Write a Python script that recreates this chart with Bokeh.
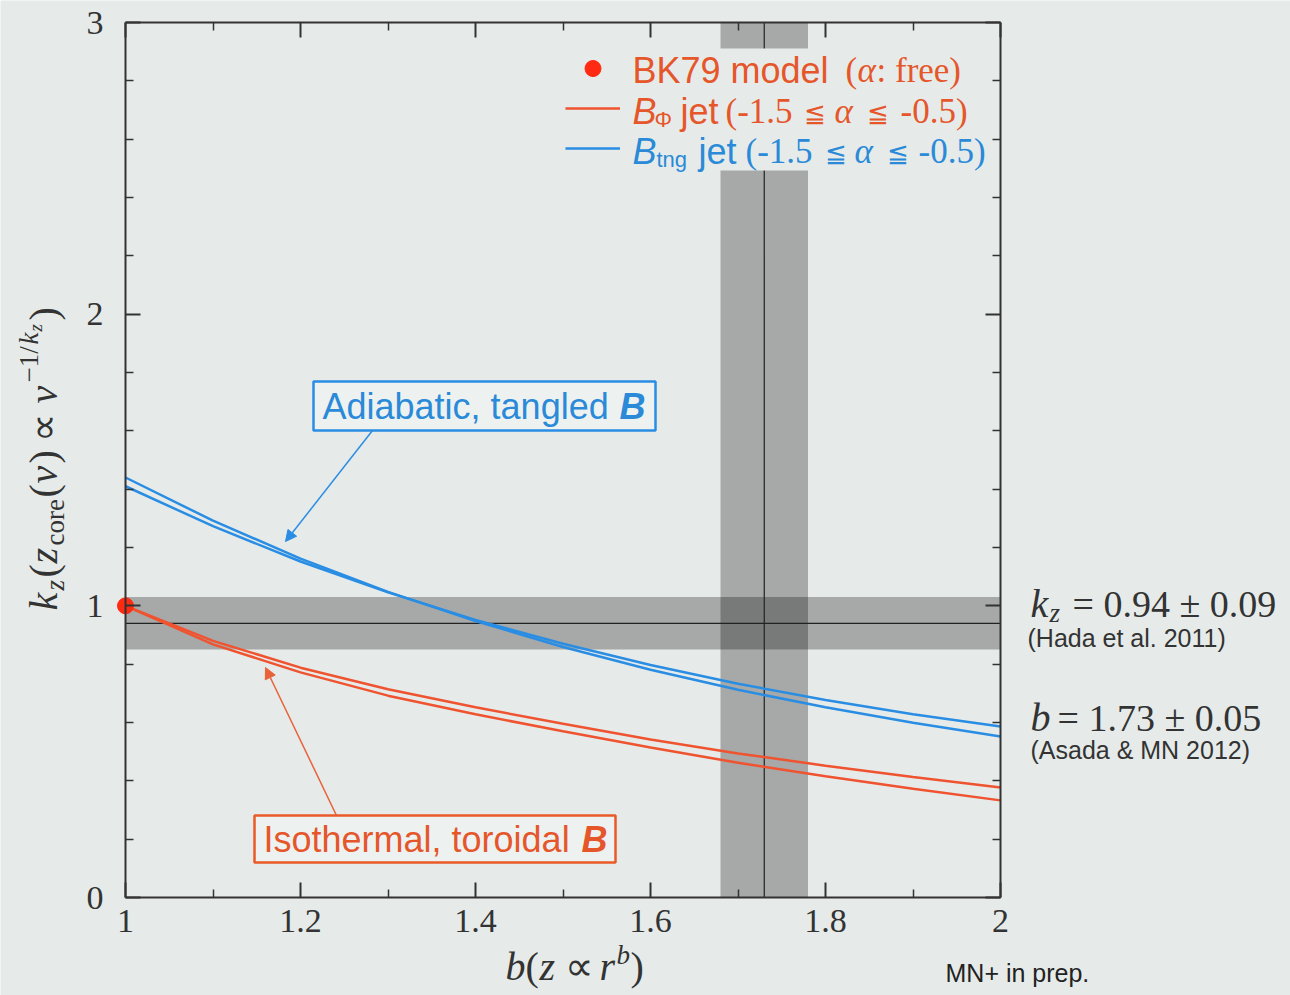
import numpy as np
from bokeh.plotting import figure
from bokeh.models import (Range1d, FixedTicker, LinearAxis, CustomJSTickFormatter,
                          BoxAnnotation, Label, Arrow, NormalHead, Legend, LegendItem)
from bokeh.embed import file_html
from bokeh.resources import INLINE

# ---------------- data ----------------
b_grid = [1.0, 1.1, 1.2, 1.3, 1.4, 1.5, 1.6, 1.7, 1.8, 1.9, 2.0]
k_toroidal_hi = [1.00, 0.880, 0.788, 0.714, 0.652, 0.596, 0.542, 0.494, 0.452, 0.413, 0.377]
k_toroidal_lo = [1.00, 0.868, 0.772, 0.692, 0.628, 0.570, 0.514, 0.462, 0.416, 0.373, 0.333]
k_tangled_a = [1.44, 1.292, 1.162, 1.048, 0.948, 0.859, 0.781, 0.712, 0.652, 0.599, 0.552]
k_tangled_b = [1.41, 1.273, 1.152, 1.046, 0.952, 0.870, 0.797, 0.733, 0.677, 0.628, 0.586]
bk79_b = [1.0]
bk79_k = [1.0]
kz_obs, kz_err = 0.94, 0.09
b_obs, b_err = 1.73, 0.05
x_ticks = [1.0, 1.2, 1.4, 1.6, 1.8, 2.0]
x_minor = [1.1, 1.3, 1.5, 1.7, 1.9]
y_ticks = [0, 1, 2, 3]
y_minor = [0.2, 0.4, 0.6, 0.8, 1.2, 1.4, 1.6, 1.8, 2.2, 2.4, 2.6, 2.8]

# ---------------- style ----------------
BG = "#e6ebe9"
BOX_FILL = "#edf2f1"
INK = "#333333"
RED = "#ef5330"
RED_TXT = "#e5572b"
RED_ARROW = "#e8623a"
DOT = "#ff2a12"
BLUE = "#2a8de4"
BLUE_TXT = "#2a8ad8"
SANS = "Liberation Sans"
SERIF = "Liberation Serif"
SYM = "DejaVu Serif"

W, H = 1290, 995
FL, FR, FT, FB = 125, 1000, 22, 897  # plot-box edges in pixels
X0, X1, Y0, Y1 = 1.0, 2.0, 0.0, 3.0


def px_x(px):
    return X0 + (px - FL) / (FR - FL) * (X1 - X0)


def px_y(py):
    return Y0 + (FB - py) / (FB - FT) * (Y1 - Y0)


# the frame spans the whole canvas; the axes are pinned to the plot box
p = figure(width=W, height=H, x_range=Range1d(px_x(0), px_x(W)),
           y_range=Range1d(px_y(H), px_y(0)),
           output_backend="svg", toolbar_location=None, min_border=0)
p.title.visible = False
p.background_fill_color = BG
p.border_fill_color = BG
p.outline_line_color = None
p.xgrid.visible = False
p.ygrid.visible = False

xt = FixedTicker(ticks=x_ticks, minor_ticks=x_minor)
yt = FixedTicker(ticks=y_ticks, minor_ticks=y_minor)
xfmt = CustomJSTickFormatter(code="return tick.toFixed(1).replace('.0', '');")
yfmt = CustomJSTickFormatter(code="return tick.toFixed(0);")
blank = CustomJSTickFormatter(code="return '';")


def style_axis(ax, labels=True, standoff=10):
    ax.axis_line_color = INK
    ax.axis_line_width = 2
    ax.major_tick_line_color = INK
    ax.major_tick_line_width = 2
    ax.minor_tick_line_color = INK
    ax.minor_tick_line_width = 1.5
    ax.major_tick_in = 15
    ax.major_tick_out = 0
    ax.minor_tick_in = 8
    ax.minor_tick_out = 0
    ax.major_label_text_font = SERIF
    ax.major_label_text_color = INK
    if labels:
        ax.major_label_text_font_size = "34px"
        ax.major_label_standoff = standoff
    else:
        ax.major_label_text_font_size = "1px"
        ax.major_label_standoff = 0


xa = p.xaxis[0]
xa.ticker = xt
xa.formatter = xfmt
xa.fixed_location = Y0
xa.bounds = (X0, X1)
style_axis(xa, True, 12)
ya = p.yaxis[0]
ya.ticker = yt
ya.formatter = yfmt
ya.fixed_location = X0
ya.bounds = (Y0, Y1)
style_axis(ya, True, 22)

top = LinearAxis(ticker=xt, formatter=blank, fixed_location=Y1, bounds=(X0, X1))
style_axis(top, False)
p.add_layout(top, "above")
right = LinearAxis(ticker=yt, formatter=blank, fixed_location=X1, bounds=(Y0, Y1))
style_axis(right, False)
p.add_layout(right, "right")

# ---------------- observational bands (underlay) ----------------
p.add_layout(BoxAnnotation(left=X0, right=X1, bottom=kz_obs - kz_err, top=kz_obs + kz_err,
                           fill_color="black", fill_alpha=0.28, line_color=None, level="underlay"))
p.add_layout(BoxAnnotation(left=b_obs - b_err, right=b_obs + b_err, bottom=Y0, top=Y1,
                           fill_color="black", fill_alpha=0.28, line_color=None, level="underlay"))
# central values drawn as zero-thickness boxes (only their outline shows)
p.add_layout(BoxAnnotation(left=X0, right=X1, bottom=kz_obs, top=kz_obs, fill_alpha=0.0,
                           line_color="#222222", line_alpha=1.0, line_width=1.2, level="underlay"))
p.add_layout(BoxAnnotation(left=b_obs, right=b_obs, bottom=Y0, top=Y1, fill_alpha=0.0,
                           line_color="#222222", line_alpha=1.0, line_width=1.2, level="underlay"))
# opaque patch behind the legend block (hides the band there, as in the original)
p.add_layout(BoxAnnotation(left=px_x(558), right=px_x(992), top=px_y(48), bottom=px_y(170),
                           fill_color=BG, fill_alpha=1.0, line_color=None, level="underlay"))

# ---------------- model curves ----------------
r1 = p.line(b_grid, k_toroidal_hi, line_color=RED, line_width=2.5)
p.line(b_grid, k_toroidal_lo, line_color=RED, line_width=2.5)
b1 = p.line(b_grid, k_tangled_a, line_color=BLUE, line_width=2.5)
p.line(b_grid, k_tangled_b, line_color=BLUE, line_width=2.5)
dot = p.scatter(bk79_b, bk79_k, size=16, color=DOT)

# ---------------- legend keys (transparent legend; texts are composed below) ----------------
leg = Legend(items=[LegendItem(label=" ", renderers=[dot]),
                    LegendItem(label=" ", renderers=[r1]),
                    LegendItem(label=" ", renderers=[b1])],
             location=(565, H - 48 - 120), orientation="vertical",
             glyph_width=55, glyph_height=40, label_height=40, label_width=20,
             label_standoff=12, spacing=0, padding=0, margin=0,
             background_fill_alpha=0.0, border_line_color=None,
             label_text_font_size="10px")
p.add_layout(leg)


def txt(text, px, py, size, font=SANS, style="normal", color=INK,
        align="left", angle=0.0):
    p.add_layout(Label(x=px_x(px), y=px_y(py), text=text, text_font=font,
                       text_font_size=f"{size}px", text_font_style=style,
                       text_color=color, text_align=align, text_baseline="middle",
                       angle=angle, level="overlay"))


# legend texts (py = vertical centre)
txt("BK79 model", 632, 70, 36, SANS, "normal", RED_TXT)
txt("(", 845, 70, 35, SERIF, "normal", RED_TXT)
txt("α", 857, 70, 35, SERIF, "italic", RED_TXT)
txt(": free)", 876, 70, 35, SERIF, "normal", RED_TXT)

txt("B", 632, 111, 36, SANS, "italic", RED_TXT)
txt("Φ", 654, 119, 22, SANS, "normal", RED_TXT)
txt("jet", 680, 111, 36, SANS, "normal", RED_TXT)
txt("(-1.5", 725, 111, 35, SERIF, "normal", RED_TXT)
txt("≦", 803, 112, 26, SYM, "normal", RED_TXT)
txt("α", 834, 111, 35, SERIF, "italic", RED_TXT)
txt("≦", 866, 112, 26, SYM, "normal", RED_TXT)
txt("-0.5)", 900, 111, 35, SERIF, "normal", RED_TXT)

txt("B", 632, 151, 36, SANS, "italic", BLUE_TXT)
txt("tng", 656, 159, 22, SANS, "normal", BLUE_TXT)
txt("jet", 698, 151, 36, SANS, "normal", BLUE_TXT)
txt("(-1.5", 745, 151, 35, SERIF, "normal", BLUE_TXT)
txt("≦", 824, 152, 26, SYM, "normal", BLUE_TXT)
txt("α", 854, 151, 35, SERIF, "italic", BLUE_TXT)
txt("≦", 886, 152, 26, SYM, "normal", BLUE_TXT)
txt("-0.5)", 918, 151, 35, SERIF, "normal", BLUE_TXT)

# ---------------- callout boxes and arrows ----------------
p.add_layout(Arrow(end=NormalHead(size=11, fill_color=BLUE, line_color=BLUE),
                   x_start=px_x(372), y_start=px_y(430), x_end=px_x(285), y_end=px_y(541),
                   line_color=BLUE, line_width=1.5))
p.add_layout(Arrow(end=NormalHead(size=11, fill_color=RED_ARROW, line_color=RED_ARROW),
                   x_start=px_x(336), y_start=px_y(815), x_end=px_x(265), y_end=px_y(667),
                   line_color=RED_ARROW, line_width=1.5))
p.add_layout(BoxAnnotation(left=px_x(313), right=px_x(655), top=px_y(381), bottom=px_y(430),
                           fill_color=BOX_FILL, fill_alpha=1.0, line_color=BLUE,
                           line_alpha=1.0, line_width=2.5))
p.add_layout(BoxAnnotation(left=px_x(254), right=px_x(615), top=px_y(815), bottom=px_y(862),
                           fill_color=BOX_FILL, fill_alpha=1.0, line_color="#ea5a28",
                           line_alpha=1.0, line_width=2.5))
txt("Adiabatic, tangled", 322, 406, 36, SANS, "normal", BLUE_TXT)
txt("B", 619, 406, 36, SANS, "bold italic", BLUE_TXT)
txt("Isothermal, toroidal", 263, 839, 36, SANS, "normal", RED_TXT)
txt("B", 581, 839, 36, SANS, "bold italic", RED_TXT)

# ---------------- right-hand notes ----------------
txt("k", 1030, 603, 40, SERIF, "italic", INK)
txt("z", 1049, 612, 27, SERIF, "italic", INK)
txt("= 0.94 ± 0.09", 1072, 603, 38, SERIF, "normal", INK)
txt("(Hada et al. 2011)", 1027, 637, 25, SANS, "normal", INK)
txt("b", 1030, 717, 40, SERIF, "italic", INK)
txt("= 1.73 ± 0.05", 1057, 717, 38, SERIF, "normal", INK)
txt("(Asada & MN 2012)", 1030, 749, 25, SANS, "normal", INK)
txt("MN+ in prep.", 945, 972, 25, SANS, "normal", "#222222")

# ---------------- x-axis label: b(z ∝ r^b) ----------------
xl = [("b", 40, "italic", 0, 20), ("(", 40, "normal", 0, 14), ("z", 40, "italic", 0, 25),
      ("∝", 40, "normal", 0, 35), ("r", 40, "italic", 0, 17), ("b", 27, "italic", -12, 14),
      (")", 40, "normal", 0, 14)]
cx = 505
for t, s, st, dy, adv in xl:
    txt(t, cx, 966 + dy, s, SERIF, st, INK)
    cx += adv

# ---------------- y-axis label: k_z(z_core(ν) ∝ ν^{-1/k_z}) ----------------
yl = [("k", 40, "italic", 43, 20), ("z", 27, "italic", 54, 13), ("(", 40, "normal", 43, 14),
      ("z", 40, "italic", 43, 18), ("core", 27, "normal", 54, 48), ("(", 40, "normal", 43, 14),
      ("ν", 40, "italic", 43, 20), (")", 40, "normal", 43, 22), ("∝", 40, "normal", 43, 38),
      ("ν", 40, "italic", 43, 21), ("−1/", 27, "normal", 28, 38), ("k", 27, "italic", 28, 13),
      ("z", 19, "italic", 35, 11), (")", 40, "normal", 43, 14)]
cy = 610
for t, s, st, cxp, adv in yl:
    txt(t, cxp, cy, s, SERIF, st, INK, angle=np.pi / 2)
    cy -= adv

open("out.html", "w").write(file_html(p, INLINE))
